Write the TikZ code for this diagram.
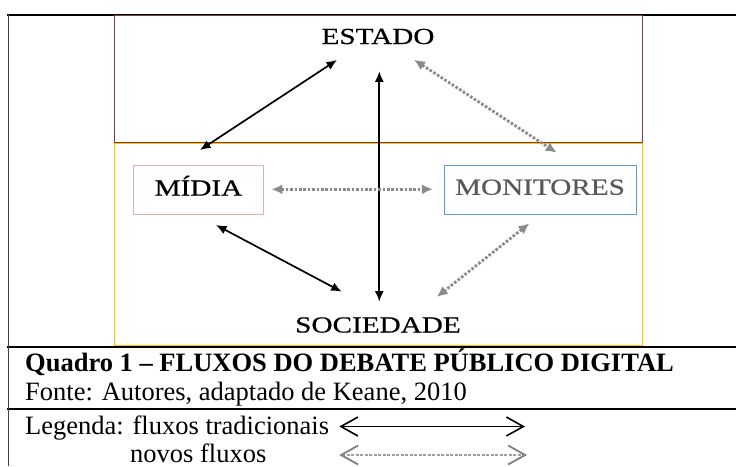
\documentclass[tikz,border=0pt]{standalone}
\usepackage{fontspec}
\setmainfont{Liberation Serif}
\newfontfamily\diagfont[FakeStretch=1.27,FakeBold=0.6]{Liberation Serif}
\usetikzlibrary{arrows.meta}
\definecolor{statecol}{HTML}{7F3F3F}
\definecolor{soccol}{HTML}{FFC000}
\definecolor{midcol}{HTML}{E6B0B0}
\definecolor{moncol}{HTML}{5B9BD5}
\definecolor{montext}{HTML}{595959}
\definecolor{dotgray}{HTML}{8A8A8A}
\begin{document}
\begin{tikzpicture}[x=1pt,y=-1pt,
  lbl/.style={font=\diagfont\fontsize{23}{23}\selectfont, inner sep=0pt},
  tbox/.style={lbl, line width=1pt, text height=15pt, text depth=4.5pt, inner sep=0pt},
  trad/.style={line width=1.7pt, {Latex[length=10.5pt,width=9pt]}-{Latex[length=10.5pt,width=9pt]}},
  novo/.style={dotgray, line width=2.8pt, dash pattern=on 2.6pt off 1.8pt, {Latex[length=11pt,width=10pt]}-{Latex[length=11pt,width=10pt]}},
  captxt/.style={font=\fontsize{26.5}{28}\selectfont, inner sep=0pt, anchor=base west},
  rule/.style={line width=2pt},
  legtrad/.style={line width=1.5pt, {Straight Barb[length=17pt,width=19pt,line width=1.6pt]}-{Straight Barb[length=17pt,width=19pt,line width=1.6pt]}},
  legnovo/.style={gray!75, line width=1.2pt, dash pattern=on 3pt off 1.5pt, {Straight Barb[length=17pt,width=19pt,line width=1.8pt,color=gray]}-{Straight Barb[length=17pt,width=19pt,line width=1.8pt,color=gray]}}
]
\useasboundingbox (0,0) rectangle (736,466);
% table rules
\draw[rule] (7,14.7) -- (736,14.7);
\draw[rule] (7,347.3) -- (736,347.3);
\draw[rule] (7,409.3) -- (736,409.3);
\draw[line width=1.6pt, black!75] (8.3,13.7) -- (8.3,466);
% regions
\draw[soccol, line width=1pt] (114,143.5) rectangle (642,345);
\draw[statecol, line width=1pt] (114,15.5) rectangle (642,142.6);
% nodes
\node[lbl, anchor=base] (estado) at (378,44) {ESTADO};
\node[lbl, anchor=base] (sociedade) at (378,332.5) {SOCIEDADE};
\node[tbox, draw=midcol, minimum width=130.4pt, minimum height=49.3pt] (midia) at (198.5,190.3) {MÍDIA};
\node[tbox, draw=moncol, text=montext, minimum width=192pt, minimum height=49pt] (monitores) at (540,189.5) {MONITORES};
% arrow end points
\coordinate (me) at (200,150);   \coordinate (em) at (337,60);
\coordinate (es) at (379.3,71.3); \coordinate (se) at (379.3,301.7);
\coordinate (ms) at (216,225);   \coordinate (sm) at (341.7,291.7);
\coordinate (eo) at (414,59.7);  \coordinate (oe) at (556.7,152.7);
\coordinate (mo) at (271.4,189.3); \coordinate (om) at (432.9,189.3);
\coordinate (os) at (529.5,223.3); \coordinate (so) at (436.7,297);
\draw[trad] (me) -- (em);
\draw[trad] (es) -- (se);
\draw[trad] (ms) -- (sm);
\draw[novo] (eo) -- (oe);
\draw[novo] (mo) -- (om);
\draw[novo] (os) -- (so);
% caption
\node[captxt, font=\fontsize{26.5}{28}\selectfont\bfseries] (quadro) at (25,371.7) {Quadro 1 – FLUXOS DO DEBATE PÚBLICO DIGITAL};
\node[captxt] (fonte) at (25,400) {Fonte: Autores, adaptado de Keane, 2010};
\node[captxt] (legenda) at (25,434.3) {Legenda: fluxos tradicionais};
\node[captxt] (novos) at (130,462) {novos fluxos};
\coordinate (la) at (339.3,426.5); \coordinate (lb) at (525,426.5);
\coordinate (lc) at (339.3,455);   \coordinate (ld) at (527,455);
\draw[legtrad] (la) -- (lb);
\draw[legnovo] (lc) -- (ld);
\end{tikzpicture}
\end{document}
